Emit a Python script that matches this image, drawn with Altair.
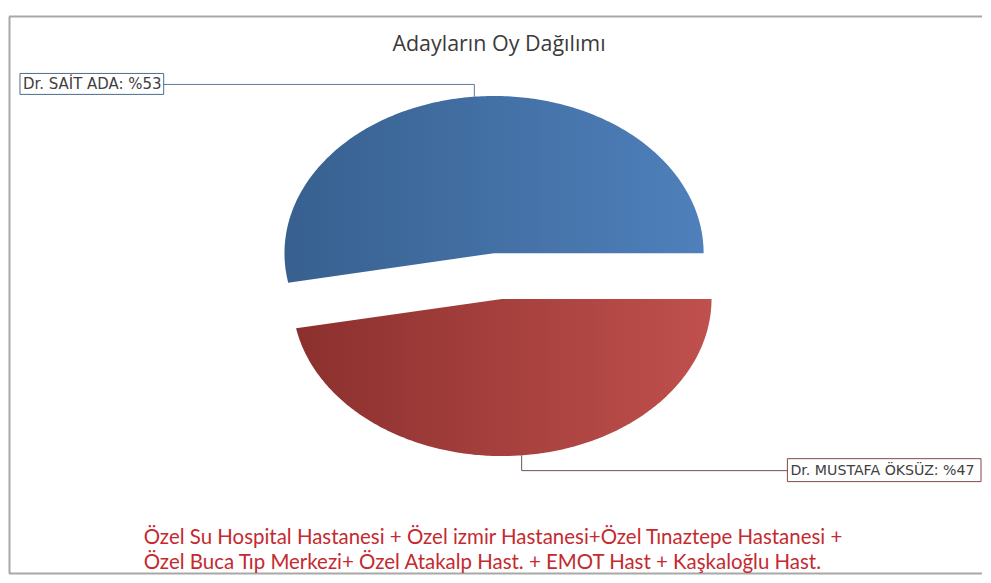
import math
from itertools import accumulate

import altair as alt
import pandas as pd

# ---------------- data ----------------
names = ["Dr. SAİT ADA", "Dr. MUSTAFA ÖKSÜZ"]
shares = [53, 47]
title_text = "Adayların Oy Dağılımı"
footer_lines = [
    "Özel Su Hospital Hastanesi + Özel izmir Hastanesi+Özel Tınaztepe Hastanesi +",
    "Özel Buca Tıp Merkezi+ Özel Atakalp Hast. + EMOT Hast + Kaşkaloğlu Hast.",
]

# ---------------- layout / style ----------------
W, H = 975, 567
CX, CY = 490, 268          # pie centre (plot coords)
RX, RY = 210, 157.5        # ellipse radii (perspective pie)
DX, DY = 42, 23            # explode offset
N = 240                    # samples along each rim

slice_grads = [
    ("#37608f", "#4f80bb"),
    ("#8b302e", "#c0504d"),
]
box_strokes = ["#4d6b8c", "#7d4a48"]
leader_colors = ["#5b7898", "#6e5250"]
label_sizes = [15, 14.2]

total = sum(shares)
ends = list(accumulate(shares))
starts = [e - s for e, s in zip(ends, shares)]

rows = []
for name, s0, s1 in zip(names, starts, ends):
    for k in range(N + 1):
        rows.append({"name": name, "s0": s0 / total, "s1": s1 / total, "k": k})
pie_df = pd.DataFrame(rows)

xs = alt.Scale(domain=[0, W], nice=False, zero=False)
ys = alt.Scale(domain=[0, H], nice=False, zero=False, reverse=True)


def X(f):
    return alt.X(f, type="quantitative", scale=xs, axis=None)


def Y(f):
    return alt.Y(f, type="quantitative", scale=ys, axis=None)


pie_base = (
    alt.Chart(pie_df)
    .transform_calculate(a0="2*PI*datum.s0", a1="2*PI*datum.s1")
    .transform_calculate(
        mid="(datum.a0+datum.a1)/2",
        ang=f"datum.a0 + (datum.a1-datum.a0)*(datum.k-1)/{N - 1}",
    )
    .transform_calculate(
        cx=f"{CX} + {DX}*cos(datum.mid)", cy=f"{CY} - {DY}*sin(datum.mid)"
    )
    .transform_calculate(
        px=f"datum.k == 0 ? datum.cx : datum.cx + {RX}*cos(datum.ang)",
        py=f"datum.k == 0 ? datum.cy : datum.cy - {RY}*sin(datum.ang)",
    )
)

layers = []

# frame (top, left, bottom)
frame_df = pd.DataFrame(
    [
        {"x": 0, "x2": W, "y": 8, "y2": 8},
        {"x": 0.5, "x2": 0.5, "y": 8, "y2": H - 1},
        {"x": 0, "x2": W, "y": H - 1, "y2": H - 1},
    ]
)
layers.append(
    alt.Chart(frame_df)
    .mark_rule(color="#a8a8a8", strokeWidth=2)
    .encode(x=X("x"), x2="x2", y=Y("y"), y2="y2")
)

# slices
for name, (c0, c1) in zip(names, slice_grads):
    grad = alt.LinearGradient(
        gradient="linear",
        stops=[alt.GradientStop(color=c0, offset=0), alt.GradientStop(color=c1, offset=1)],
        x1=0, x2=1, y1=0, y2=0,
    )
    layers.append(
        pie_base.transform_filter(alt.datum.name == name)
        .mark_line(filled=True, color=grad, strokeOpacity=0)
        .encode(x=X("px"), y=Y("py"), order=alt.Order("k:Q"))
    )


def anchor(i):
    mid = math.pi * (starts[i] + ends[i]) / total
    cx = CX + DX * math.cos(mid)
    cy = CY - DY * math.sin(mid)
    return cx + RX * math.cos(mid), cy - RY * math.sin(mid)


# label boxes (layout)
boxes = [
    {"x": 11, "x2": 155, "y": 65, "y2": 86, "ty": 76},
    {"x": 780, "x2": 974, "y": 451, "y2": 474, "ty": 463},
]
labels = [f"{n}: %{s}" for n, s in zip(names, shares)]

for i in range(len(names)):
    ax, ay = anchor(i)
    b = boxes[i]
    if i == 0:
        pts = [(b["x2"], b["ty"]), (ax, b["ty"]), (ax, ay)]
    else:
        pts = [(ax, ay), (ax, b["ty"]), (b["x"], b["ty"])]
    ldf = pd.DataFrame([{"x": p[0], "y": p[1], "o": j} for j, p in enumerate(pts)])
    layers.append(
        alt.Chart(ldf)
        .mark_line(color=leader_colors[i], strokeWidth=1)
        .encode(x=X("x"), y=Y("y"), order=alt.Order("o:Q"))
    )
    bdf = pd.DataFrame([{**b, "label": labels[i]}])
    layers.append(
        alt.Chart(bdf)
        .mark_rect(fill="white", stroke=box_strokes[i], strokeWidth=1)
        .encode(x=X("x"), x2="x2", y=Y("y"), y2="y2")
    )
    layers.append(
        alt.Chart(bdf)
        .mark_text(align="left", baseline="middle", dx=3, font="DejaVu Sans",
                   fontSize=label_sizes[i], color="#404040")
        .encode(x=X("x"), y=Y("ty"), text="label:N")
    )

# title
tdf = pd.DataFrame([{"x": 491, "y": 37, "t": title_text}])
layers.append(
    alt.Chart(tdf)
    .mark_text(align="center", baseline="middle", font="Open Sans", fontSize=21.5,
               color="#3a3a3a")
    .encode(x=X("x"), y=Y("y"), text="t:N")
)

# footer
fdf = pd.DataFrame(
    [{"x": 135, "y": 531 + 25 * i, "t": t} for i, t in enumerate(footer_lines)]
)
layers.append(
    alt.Chart(fdf)
    .mark_text(align="left", baseline="middle", font="Lato", fontSize=20.5,
               color="#c42a2f")
    .encode(x=X("x"), y=Y("y"), text="t:N")
)

chart = (
    alt.layer(*layers)
    .properties(width=W, height=H, padding=0, background="white")
    .configure_view(stroke="transparent", strokeWidth=0)
)

chart.save("out.html", embed_options={"renderer": "svg", "actions": False})
